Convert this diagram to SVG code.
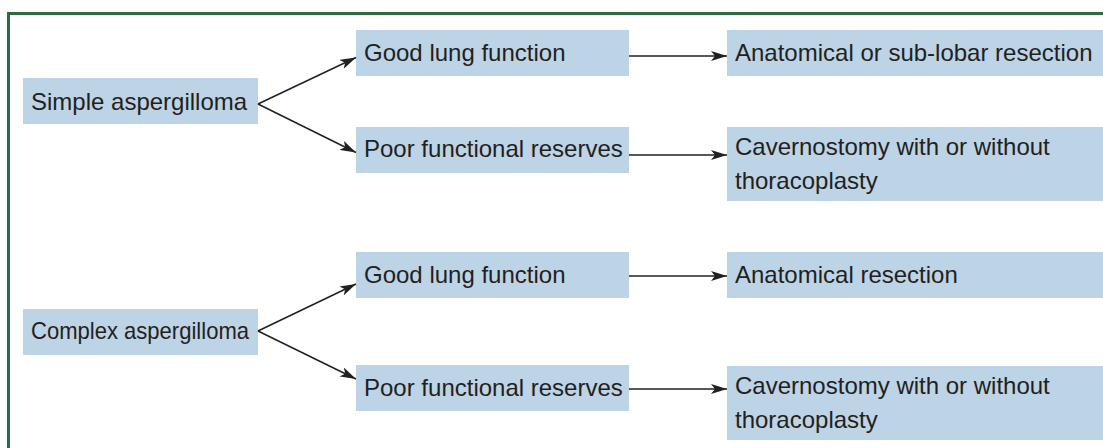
<svg xmlns="http://www.w3.org/2000/svg" width="1103" height="448" viewBox="0 0 1103 448">
<style>
.box{fill:#bdd3e6}
.t{font-family:"Liberation Sans",Arial,sans-serif;font-size:24px;fill:#231f20}
.c{fill:none;stroke:#231f20;stroke-width:1.5}
</style>
<defs>
<marker id="ah" viewBox="0 0 16 10" refX="16" refY="5" markerWidth="16" markerHeight="10" markerUnits="userSpaceOnUse" orient="auto">
<path d="M0,0 L16,5 L0,10 L4,5 Z" fill="#231f20"/>
</marker>
</defs>
<rect x="0" y="0" width="1103" height="448" fill="#ffffff"/>
<rect x="8.5" y="13.5" width="1110" height="450" fill="none" stroke="#2b6b3c" stroke-width="3"/>
<g id="n-simple"><rect class="box" x="23" y="78" width="235" height="46"/><text class="t" x="31" y="110">Simple aspergilloma</text></g>
<g id="n-good1"><rect class="box" x="356" y="30" width="273" height="46"/><text class="t" x="364" y="61">Good lung function</text></g>
<g id="n-poor1"><rect class="box" x="356" y="127" width="273" height="46"/><text class="t" x="364" y="157">Poor functional reserves</text></g>
<g id="n-anat1"><rect class="box" x="727" y="30" width="376" height="46"/><text class="t" x="735" y="61">Anatomical or sub-lobar resection</text></g>
<g id="n-cav1"><rect class="box" x="727" y="127" width="376" height="74"/><text class="t" x="735" y="155">Cavernostomy with or without</text><text class="t" x="735" y="189">thoracoplasty</text></g>
<g id="n-complex"><rect class="box" x="23" y="309" width="235" height="46"/><text class="t" x="31" y="339" textLength="218" lengthAdjust="spacingAndGlyphs">Complex aspergilloma</text></g>
<g id="n-good2"><rect class="box" x="356" y="252" width="273" height="46"/><text class="t" x="364" y="283">Good lung function</text></g>
<g id="n-poor2"><rect class="box" x="356" y="365" width="273" height="46"/><text class="t" x="364" y="396">Poor functional reserves</text></g>
<g id="n-anat2"><rect class="box" x="727" y="252" width="376" height="46"/><text class="t" x="735" y="283">Anatomical resection</text></g>
<g id="n-cav2"><rect class="box" x="727" y="366" width="376" height="74"/><text class="t" x="735" y="394">Cavernostomy with or without</text><text class="t" x="735" y="428">thoracoplasty</text></g>
<g id="connectors">
<line class="c" x1="258" y1="104" x2="356" y2="57.5" marker-end="url(#ah)"/>
<line class="c" x1="258" y1="104" x2="356" y2="152.5" marker-end="url(#ah)"/>
<line class="c" x1="629" y1="56" x2="727" y2="56" marker-end="url(#ah)"/>
<line class="c" x1="629" y1="155" x2="727" y2="155" marker-end="url(#ah)"/>
<line class="c" x1="258" y1="331" x2="356" y2="284" marker-end="url(#ah)"/>
<line class="c" x1="258" y1="331" x2="356" y2="379" marker-end="url(#ah)"/>
<line class="c" x1="629" y1="276" x2="727" y2="276" marker-end="url(#ah)"/>
<line class="c" x1="629" y1="389" x2="727" y2="389" marker-end="url(#ah)"/>
</g>
</svg>
